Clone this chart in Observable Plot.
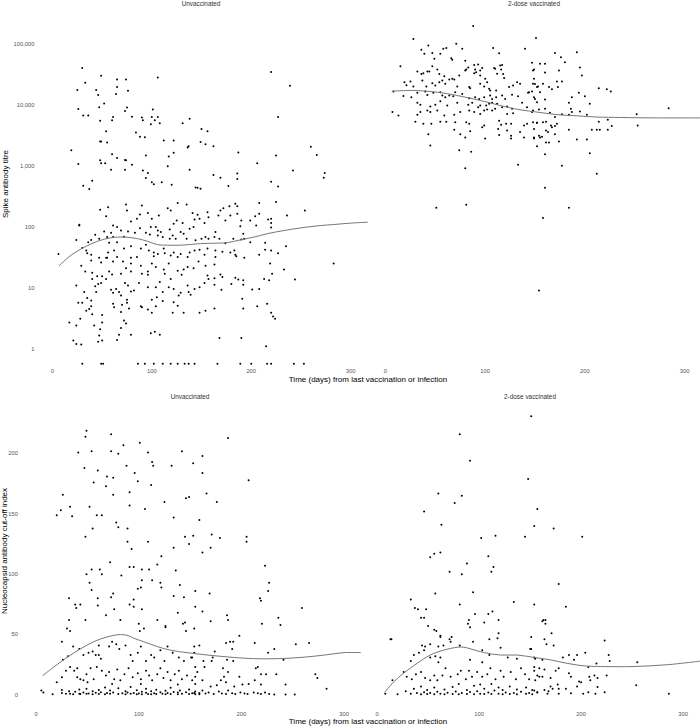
<!DOCTYPE html>
<html><head><meta charset="utf-8">
<script src="https://cdn.jsdelivr.net/npm/d3@7"></script>
<script src="https://cdn.jsdelivr.net/npm/@observablehq/plot@0.6"></script>
<style>
body{margin:0;background:#fff;}
#chart{position:relative;width:700px;height:726px;overflow:hidden;font-family:"Liberation Sans",Arial,sans-serif;background:#fff;}
.panel{position:absolute;}
.strip{position:absolute;font-size:6.4px;color:#333;transform:translate(-50%,-50%);white-space:nowrap;}
.xtitle{position:absolute;font-size:8px;color:#000;transform:translate(-50%,-50%);white-space:nowrap;}
.ytitle{position:absolute;font-size:8px;color:#000;transform:translate(-50%,-50%) rotate(-90deg);white-space:nowrap;}
</style></head><body><div id="chart"></div><script>
// ---------- labels ----------
const groups = ["Unvaccinated", "2-dose vaccinated"];
const xTitle = "Time (days) from last vaccination or infection";
const yTitleSpike = "Spike antibody titre";
const yTitleNucleo = "Nucleocapsid antibody cut-off index";
const xTicks = [0, 100, 200, 300];
const spikeTicks = [1, 10, 100, 1000, 10000, 100000];
const nucleoTicks = [0, 50, 100, 150, 200];

// ---------- Spike titre, unvaccinated: [days, titre] ----------
const spikeUnvax = [
[30,40000],[33,23000],[25,17500],[44,17500],[46,14500],[49,30000],[65,26000],[74,26000],[65,19500],[64,15000],[76,17000],[106,28000],[220,34500],[239,20500],
[26,8500],[31,6700],[36,6700],[47,9100],[52,10500],[60,5600],[61,6300],[75,9000],[73,7900],[80,6400],[90,6200],[91,5600],[99,4800],[100,6300],[101,8400],[103,5600],[106,6300],[108,5000],[48,5500],[49,2500],[48,2500],[55,2400],[54,3700],[84,3500],[88,3000],[93,2950],[131,5000],[138,5900],[112,2600],[122,2600],[150,4000],[156,3700],[149,2450],[154,2250],[136,2000],[137,2100],[162,2100],[19,1800],[26,1070],[48,1230],[49,1100],[53,1100],[60,1550],[65,1340],[73,1250],[74,1230],[80,1040],[59,860],[73,860],[94,1480],[117,1420],[122,1630],[116,980],[91,840],[96,760],[94,630],[100,540],[102,500],[110,540],[120,490],[138,860],[162,710],[169,640],[177,465],[146,435],[144,440],[149,420],[187,1660],[186,750],[186,610],[206,1100],[225,1480],[220,550],[227,460],[227,6300],[242,840],[260,2050],[266,1500],[274,760],[273,640],[31,470],[37,415],[40,570],[27,105],
[74,232],[90,223],[126,245],[135,232],[56,210],[48,190],[75,185],[116,202],[119,185],[54,149],[88,159],[96,169],[107,153],[100,135],[146,157],[141,169],[156,174],[125,127],[131,116],[79,122],[85,135],[99,99],[106,87],[106,72],[104,99],[118,90],[122,112],[143,132],[148,135],[153,116],[157,144],
[27,108],[52,84],[61,105],[65,99],[69,87],[59,80],[61,68],[72,69],[88,95],[94,80],[98,75],[109,82],[111,68],[121,72],[129,82],[132,77],[138,93],[142,99],[150,64],[154,68],[157,64],[144,60],[135,64],[124,64],[118,64],[39,61],[36,56],[43,74],[47,64],[57,55],[65,56],[76,84],[83,80],[24,61],[55,68],
[30,45],[34,41],[35,37],[39,35],[47,31],[55,31],[56,38],[62,41],[72,44],[79,48],[89,44],[94,51],[97,41],[102,38],[102,33],[106,36],[112,44],[113,37],[119,34],[122,38],[129,36],[126,32],[136,32],[138,38],[143,41],[148,42],[153,35],[156,44],[65,32],[79,31],[85,32],[6,36],
[29,23],[33,18.5],[40,17.6],[45,15.5],[50,15.5],[57,18.5],[60,16.5],[69,17],[74,21],[79,25],[79,18.5],[89,23],[90,17],[96,18.5],[100,25],[104,22],[112,20],[113,17],[117,25],[119,14],[126,19],[130,16.3],[132,20],[136,22],[142,21],[147,27],[154,23],[156,15.9],[39,28],[49,26],[54,31],[61,27],[71,27],[96,16.3],
[24,10.9],[32,8.5],[40,14],[43,10.6],[46,11.6],[49,12],[54,14],[59,9.3],[64,9.6],[67,8.5],[73,12],[76,10.9],[79,8.7],[82,9],[87,12],[96,10.2],[104,10.2],[108,12.4],[111,8.5],[117,10.2],[122,9.6],[127,7.5],[129,8.3],[136,10.9],[137,8.5],[139,7.7],[143,9.6],[148,10.2],[153,12],[157,14],[69,7.5],[61,8.3],[44,8.5],[35,6.8],
[26,5.7],[30,5.7],[39,6.2],[39,5],[37,4.5],[40,3.7],[34,4.2],[28,3.1],[50,3.6],[61,5.5],[62,4.8],[70,5.3],[75,5.7],[75,6.4],[89,5],[90,4.8],[96,4.4],[100,3.9],[104,5],[105,7],[100,6.4],[111,6.1],[122,5.8],[126,5.1],[132,3.9],[148,3.9],[154,4.2],[121,3.9],[77,4.6],[69,4],
[17,2.7],[24,2.4],[42,2.4],[48,2.1],[50,2.7],[69,2.2],[72,2.9],[74,2.6],[79,1.7],[47,1.65],[50,1.37],[46,1.3],[65,1.4],[21,1.37],[24,1.2],[29,1.18],[99,1.8],[103,1.9],[108,1.7],[67,1.7],
[184,239],[186,217],[208,246],[225,254],[178,217],[172,202],[169,185],[167,153],[174,127],[179,153],[186,164],[190,127],[189,102],[199,127],[204,149],[208,164],[217,132],[220,135],[220,116],[220,97],[205,105],[236,153],[254,185],[164,82],[163,68],[168,64],[174,54],[182,64],[190,62],[192,77],[193,64],[199,56],[214,55],[235,48],[227,37],[208,35],[214,42],[220,41],[164,41],[171,39],[183,41],[184,35],[185,33],[193,31],[179,38],[164,32],[163,24],[219,25],[233,20],[283,25],[163,14.3],[169,16.5],[171,15],[184,14.6],[187,13.7],[192,13.3],[180,11.6],[192,11.2],[201,9.4],[208,9.6],[213,14],[218,13.3],[221,17],[244,13.7],[170,9.3],[163,11.2],[191,6.6],[192,4.6],[206,5],[216,5.5],[220,3.9],[222,3.4],[224,3.1],[163,4.6],[168,1.5],[190,1.5],[215,1.1],
[30,0.57],[49,0.57],[51,0.57],[86,0.57],[93,0.57],[102,0.57],[111,0.57],[119,0.57],[126,0.57],[133,0.57],[137,0.57],[143,0.57],[166,0.57],[189,0.57],[200,0.57],[216,0.57],[220,0.57],[243,0.57],[253,0.57]
];

// ---------- Spike titre, 2-dose vaccinated ----------
const spikeVax = [
[88,195000],[28,120000],[151,124000],[43,94000],[36,80000],[61,85000],[71,100000],[77,83000],[108,85000],[114,70000],[140,83000],
[39,69000],[47,71000],[55,69000],[58,83000],[66,58000],[67,55000],[49,57000],[80,53000],[83,41000],[81,38000],[89,45000],[93,46000],[90,38000],[95,36500],[97,40000],[109,40000],[110,39000],[115,44000],[117,45000],[116,38000],[118,32000],[147,49000],[148,36500],
[15,43000],[32,35000],[36,32000],[38,33000],[42,35000],[44,35000],[47,43000],[52,38000],[54,32000],[59,29500],[67,26700],[69,26000],[74,30200],[80,36500],[89,33000],[91,34300],[95,30200],[100,26700],[102,23500],[112,32200],[119,27500],[149,26700],[150,22000],
[19,23500],[21,21000],[25,24000],[28,20000],[37,25000],[41,20000],[47,22500],[50,20700],[54,23500],[57,25000],[60,22100],[64,26000],[72,20000],[84,19500],[85,18700],[95,22100],[99,20000],[104,18300],[105,17100],[111,17100],[124,19500],[128,20700],[132,23500],[135,22100],[144,16100],[152,19500],
[8,16500],[18,13900],[26,13300],[32,15700],[40,16500],[42,14500],[48,15700],[55,16100],[57,14200],[60,13300],[64,14200],[68,13800],[70,16100],[77,15100],[84,12800],[90,13300],[94,12500],[99,13300],[105,14200],[107,12500],[111,13300],[117,14200],[120,12500],[127,14600],[133,13800],[143,15700],[147,16500],[149,13300],
[32,10800],[35,10000],[45,9400],[50,10000],[55,11400],[62,9700],[72,10800],[83,10000],[87,10800],[93,9100],[95,9700],[101,9700],[104,10400],[107,10800],[112,10400],[117,9100],[122,9400],[127,8600],[137,10800],[142,9100],[152,11000],
[7,7600],[13,6700],[32,6900],[35,7600],[42,8100],[45,7600],[52,8100],[59,6700],[69,6900],[75,7600],[84,8100],[89,7600],[95,7100],[99,8100],[102,8400],[107,8100],[110,8600],[122,7100],[128,7300],[147,7600],
[30,5300],[38,4900],[46,4900],[55,5300],[61,5300],[70,5200],[81,5200],[84,4900],[97,4300],[99,4600],[114,5500],[116,4700],[121,4900],[126,4900],[139,4600],[142,4900],[152,5100],
[43,3300],[69,3900],[75,3300],[85,3700],[114,3200],[122,3800],[126,3100],[135,3600],[139,2900],[149,2900],[154,3100],[113,4000],
[45,2150],[74,1800],[86,1700],[80,910],[133,1040],[100,2800],[80,2900],[126,2800],
[170,71000],[176,60000],[192,73000],[180,50000],[195,41000],[197,30200],[155,47000],[160,47000],[149,38000],[174,36500],[160,34000],[148,22100],[153,20000],[158,22100],[164,19500],[167,18000],[172,24000],[177,24000],[173,19500],[214,18700],[222,18000],[226,16500],[155,16100],[160,12200],[150,12500],[187,13300],[194,15700],[200,13800],[205,10400],[184,10800],[186,8600],[187,7600],[195,7800],[202,6900],[154,8400],[160,8600],[165,7400],[148,8100],[170,6300],[177,7000],[184,6900],[214,5300],[223,5700],[252,7000],[284,8800],[148,5200],[152,5100],[158,5200],[161,5300],[166,4600],[167,4300],[170,4500],[172,4900],[184,3900],[207,3900],[212,3900],[215,3900],[223,3900],[227,4500],[253,4600],[149,4000],[161,3800],[163,3600],[170,3300],[155,2900],[157,3000],[149,2800],[174,2500],[164,2400],[161,2400],[192,2700],[202,2700],[152,2100],[160,1550],[205,1600],[177,1000],[212,740],
[51,205],[81,230],[184,205],[158,140],[160,435],[154,9.0]
];

// ---------- Nucleocapsid index, unvaccinated ----------
const nucleoUnvax = [
[49,219],[48,214],[73,216],[187,213],[54,202],[41,201],[73,202],[85,207],[80,200],[101,209],[109,201],[142,202],[162,198],[113,193],[114,190],[132,190],[88,190],[47,188],[153,192],[60,186],[96,184],[162,184],[69,181],[75,180],[56,176],[99,177],[68,173],[112,174],[207,178],[91,168],[75,166],[166,167],[26,166],[146,163],[149,164],[176,160],[125,160],[91,157],[52,156],[33,156],[24,153],[20,149],[35,148],[106,154],[59,149],[64,149],[134,147],[159,145],[78,143],[80,139],[89,138],[55,138],[171,133],[153,132],[145,131],[48,131],[205,131],[205,127],[179,130],[134,122],[149,125],[89,127],[93,121],[109,127],[162,118],[170,122],[122,115],[118,108],[72,110],[136,103],[91,106],[54,104],[95,106],[103,104],[110,104],[223,107],[83,99],[49,100],[103,95],[113,95],[102,89],[99,88],[140,91],[121,93],[122,89],[52,93],[54,87],[62,104],[64,100],[169,84],[155,86],[144,81],[134,82],[75,84],[73,81],[60,80],[32,80],[38,75],[43,75],[39,72],[60,74],[76,71],[95,79],[91,75],[95,73],[103,71],[226,86],[227,93],[218,80],[219,78],[220,59],[259,72],[236,64],[238,58],[48,62],[32,62],[30,55],[33,53],[68,66],[82,62],[100,59],[101,53],[105,55],[118,62],[126,57],[126,56],[138,68],[143,59],[146,53],[154,55],[155,73],[170,61],[162,69],[186,66],[187,62],[198,49],[145,60],
[26,29],[31,32],[36,40],[42,38],[46,33],[51,35],[55,36],[58,33],[61,41],[61,33],[63,30],[71,40],[74,44],[78,42],[81,38],[87,41],[92,33],[94,28],[99,35],[102,40],[107,28],[112,33],[115,31],[121,37],[125,28],[128,40],[133,35],[139,31],[144,28],[151,31],[154,35],[159,41],[25,44],
[20,10.5],[25,14.6],[29,20],[33,23],[37,20],[40,14.6],[43,13],[46,12],[49,17],[53,22],[56,13],[59,23],[64,20],[68,16],[71,19],[76,13],[79,21],[82,12],[86,17],[90,22],[94,14.6],[99,18],[102,13],[107,20],[110,16],[113,12],[118,17],[121,22],[124,14],[128,19],[131,12],[135,17],[139,20],[142,13],[147,16],[152,12],[157,19],[40,22],[50,10.5],[74,9],[102,9],[138,8.6],[5,3.6],
[7,2],[16,0.5],[25,1.5],[25,4],[29,0.8],[32,3],[33,1],[36,0.5],[38,2.5],[42,1],[42,4.5],[43,0.6],[46,2],[49,0.8],[49,5],[51,1.2],[55,3],[55,0.5],[58,1.8],[61,0.7],[61,4],[63,2.2],[67,0.5],[67,6],[69,1.5],[72,0.8],[72,3.5],[75,2],[80,0.6],[80,5.5],[84,1.3],[87,0.4],[87,3],[89,2],[92,0.8],[92,6.5],[95,1.6],[98,0.5],[98,3.8],[100,1.1],[103,2.6],[103,0.4],[107,1.8],[107,5],[109,0.7],[112,2.9],[112,0.5],[115,1.4],[117,4.2],[117,0.6],[121,2.1],[123,0.9],[126,3.3],[126,0.4],[128,1.5],[131,0.7],[131,5.8],[134,2.4],[138,0.5],[138,1.9],[140,3.6],[142,0.8],[146,2.2],[149,0.6],[149,4.4],[152,1.3],[155,0.5],[155,2.8],[159,1.6],
[189,44],[185,43],[192,44],[191,38],[213,43],[253,42],[266,43],[232,38],[226,35],[154,40],[174,36],[172,31],
[152,31],[163,28],[171,28],[186,29],[192,28],[241,29],[155,23],[164,23],[182,22],[187,19],[216,23],[214,22],[219,17],[224,17],[234,17],[272,17],[274,14],[155,15],[162,12],[180,12],[183,15],[198,15],[213,12],[155,9],[170,7],[176,8],[185,10.5],[193,7],[201,8.6],[207,9],[219,8.6],[243,8.6],[283,5],
[154,1.5],[159,0.5],[162,3.5],[165,1.2],[168,2],[173,0.6],[178,2.8],[181,1.1],[185,0.6],[187,3.6],[191,1.4],[194,0.6],[199,2],[203,1.1],[206,0.6],[212,2],[216,1.3],[219,0.6],[223,2],[227,0.6],[232,0.3],[243,0.3],[252,0.3]
];

// ---------- Nucleocapsid index, 2-dose vaccinated ----------
const nucleoVax = [
[151,231],[81,216],[91,194],[148,179],[60,167],[83,165],[76,159],[157,154],[46,152],[63,141],[154,140],[173,138],[102,130],[116,132],[145,131],[201,131],[109,115],[62,118],[56,117],[52,114],[88,109],[114,106],[112,102],[71,102],[83,100],[178,92],[57,84],[33,79],[94,85],[37,72],[40,71],[48,71],[43,64],[46,64],[134,77],[154,75],[185,73],[81,75],[50,57],[56,54],[58,53],[62,49],[90,62],[89,59],[91,56],[96,67],[105,60],[109,67],[113,69],[119,62],[119,51],[118,47],[163,62],[165,62],[164,46],[171,51],[173,41],[151,48],[151,38],[13,46],[223,45],[73,48],[71,46],
[14,46],[44,41],[47,40],[52,42],[62,48],[60,40],[65,41],[72,44],[81,41],[94,44],[103,37],[110,46],[33,28],[36,33],[41,35],[46,37],[52,31],[57,32],[60,27],[62,31],[91,29],[103,27],[110,33],[121,39],[128,31],[137,30],[150,38],[155,30],
[26,19],[29,15],[34,13],[38,17],[43,19],[47,14],[52,12],[56,16],[59,12],[64,16],[67,22],[72,15],[79,17],[82,20],[87,13],[90,20],[93,15],[98,19],[103,15],[108,17],[111,22],[116,13],[121,20],[124,15],[131,19],[136,13],[141,22],[145,17],[149,13],[154,20],[159,15],[15,12],
[8,1],[20,0.5],[28,3],[33,0.8],[36,5],[39,1.5],[43,0.5],[43,7],[46,2.2],[49,0.6],[49,4],[52,1.5],[56,0.4],[56,6],[59,2.5],[62,0.9],[66,4.5],[66,0.4],[69,1.8],[74,0.7],[74,6.5],[77,2.8],[80,0.5],[80,9],[83,1.6],[88,4],[88,0.6],[91,2.3],[95,0.5],[95,7.5],[98,3],[101,1],[101,8.5],[105,0.6],[105,5],[109,2],[112,0.7],[112,9],[115,3.5],[119,1],[119,6],[123,0.5],[123,4],[126,2],[130,0.6],[130,7],[134,1.5],[137,0.4],[137,4.5],[141,2.5],[146,0.8],[146,6],[149,1.5],[152,0.5],[152,4],[157,2],
[162,61],[165,59],[166,42],
[227,33],[228,28],[255,27],[204,35],[188,33],[196,33],[182,31],[193,29],[162,29],[154,31],[215,26],[178,22],[207,23],[175,20],[154,23],[159,22],[164,21],[188,18],[190,15],[208,15],[213,16],[216,14],[225,16],[157,16],[162,15],[170,14],[198,11],[200,10.5],[209,12],[155,12],[254,8],[170,7],[177,8.6],[216,6.4],
[154,3.6],[157,2.2],[164,4],[168,3],[172,5],[178,5],[185,5],[196,7],[202,0.8],[207,2.2],[214,0.8],[223,2.2],[286,0.8],[167,0.8],[178,0.8],[190,1.4]
];

// ---------- fitted smooth curves: [days, value] ----------
const spikeUnvaxFit = [[6.7,23],[18.4,34],[31.8,46],[45.3,58],[58.7,66],[72,68],[85.5,64],[95.5,58],[105.6,51],[115.7,50],[129,50],[149,53],[166,54],[176,55],[189,61],[203,68],[216,77],[233,87],[250,96],[270,105],[283,109],[300,115],[317,119]];
const spikeVaxFit = [[6.7,16700],[28,17200],[52,16100],[72,14200],[95,11800],[119,9400],[135,8300],[152,7600],[172,6900],[192,6600],[212,6300],[236,6200],[269,6100],[316,6100]];
const nucleoUnvaxFit = [[6.5,16],[17,23],[30,31],[43,38],[56,44],[69,48],[82,50],[90,49],[95,47],[105,44],[118,40],[131,37],[147,35],[167,33],[193,31],[212,30],[235,30],[258,31],[281,33],[300,35],[316,35]];
const nucleoVaxFit = [[7.5,2.2],[16,10.5],[26,18],[39,26],[52,33],[65,37],[79,39.5],[85,39.5],[92,38],[105,35],[121,33],[137,33],[154,31],[170,29],[187,26],[203,24],[219,23.5],[252,23.5],[285,25],[317,28]];

// ---------- drawing ----------
const chart = document.getElementById("chart");
const fontFamily = "'Liberation Sans', Arial, sans-serif";

function panel(o) {
  const svg = Plot.plot({
    width: o.width, height: o.height,
    marginLeft: o.mL, marginRight: 0, marginTop: o.mT, marginBottom: o.mB,
    style: {fontFamily, fontSize: "5.8px", color: "#555", background: "transparent", overflow: "visible"},
    x: {domain: o.xDomain, ticks: xTicks, tickSize: 0, tickPadding: o.xPad, label: null},
    y: Object.assign({label: null, tickSize: 0, tickPadding: 10, axis: o.showY ? "left" : null}, o.y),
    marks: [
      Plot.dot(o.data, {x: d => d[0], y: d => d[1], r: 1, fill: "#000", stroke: null}),
      Plot.line(o.fit, {x: d => d[0], y: d => d[1], stroke: "#777", strokeWidth: 1, curve: "catmull-rom"})
    ]
  });
  const div = document.createElement("div");
  div.className = "panel";
  div.style.left = o.left + "px";
  div.style.top = o.top + "px";
  div.appendChild(svg);
  chart.appendChild(div);
}

const spikeY = {type: "log", domain: [0.513, 351600], ticks: spikeTicks, tickFormat: d3.format(",")};
const nucleoY = {type: "linear", domain: [-10.5, 242.4], ticks: nucleoTicks, tickFormat: d3.format("d")};

panel({data: spikeUnvax, fit: spikeUnvaxFit, left: 0, top: 0, width: 368, height: 380, mL: 44, mT: 10, mB: 14, xDomain: [-8, 318], xPad: 2, y: spikeY, showY: true});
panel({data: spikeVax, fit: spikeVaxFit, left: 370, top: 0, width: 330, height: 380, mL: 7, mT: 10, mB: 14, xDomain: [-8, 316], xPad: 2, y: spikeY, showY: false});
panel({data: nucleoUnvax, fit: nucleoUnvaxFit, left: 0, top: 380, width: 362, height: 346, mL: 27.5, mT: 22, mB: 19, xDomain: [-8, 318], xPad: 4, y: nucleoY, showY: true});
panel({data: nucleoVax, fit: nucleoVaxFit, left: 360, top: 380, width: 340, height: 346, mL: 8.5, mT: 22, mB: 19, xDomain: [-8, 317], xPad: 4, y: nucleoY, showY: false});

function label(cls, text, x, y) {
  const d = document.createElement("div");
  d.className = cls;
  d.textContent = text;
  d.style.left = x + "px";
  d.style.top = y + "px";
  chart.appendChild(d);
}
label("strip", groups[0], 201, 3);
label("strip", groups[1], 534, 3);
label("strip", groups[0], 190, 396);
label("strip", groups[1], 530, 396);
label("xtitle", xTitle, 368, 379);
label("xtitle", xTitle, 368, 721);
label("ytitle", yTitleSpike, 5, 184);
label("ytitle", yTitleNucleo, 4, 551);
</script></body></html>
